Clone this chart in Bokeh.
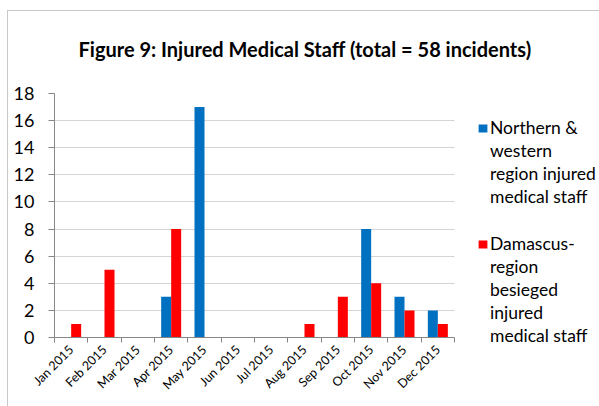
import numpy as np
from bokeh.plotting import figure
from bokeh.models import FixedTicker, Legend, LegendItem, Range1d
from bokeh.embed import file_html
from bokeh.resources import INLINE

# ---- data ----
months = ["Jan 2015", "Feb 2015", "Mar 2015", "Apr 2015", "May 2015", "Jun 2015",
          "Jul 2015", "Aug 2015", "Sep 2015", "Oct 2015", "Nov 2015", "Dec 2015"]
northern = [0, 0, 0, 3, 17, 0, 0, 0, 0, 8, 3, 2]
damascus = [1, 5, 0, 8, 0, 0, 0, 1, 3, 4, 2, 1]
y_ticks = [0, 2, 4, 6, 8, 10, 12, 14, 16, 18]
title_text = "Figure 9: Injured Medical Staff (total = 58 incidents)"
label_north = ["Northern &", "western", "region injured", "medical staff"]
label_dam = ["Damascus-", "region", "besieged", "injured", "medical staff"]

FONT = "Lato"
BLUE = "#0070C0"
RED = "#FF0000"
AXIS = "#868686"
GRID = "#d4d4d4"

n = len(months)
centers = np.arange(n) + 0.5
bounds = list(range(n + 1))
bw = 0.3

W, H = 599, 406
LEFT, TOP = 54, 93
DROP = 10                             # frame extends this many px below the zero line
BOTTOM = 69 - DROP
CAT_PX = 400 / n                      # pixel width of one month slot
UNIT_PX = 244 / (y_ticks[-1] - y_ticks[0])   # pixels per y unit
frame_w = W - LEFT
frame_h = H - TOP - BOTTOM
x_end = frame_w / CAT_PX
y_start = y_ticks[-1] - frame_h / UNIT_PX

p = figure(width=W, height=H, x_range=Range1d(0, x_end), y_range=Range1d(y_start, y_ticks[-1]),
           output_backend="svg", toolbar_location=None,
           min_border_left=LEFT, min_border_right=0, min_border_top=TOP, min_border_bottom=BOTTOM)
p.border_fill_alpha = 0
p.styles = {
    "background-image": "linear-gradient(#c8c8c8, #c8c8c8), linear-gradient(#c8c8c8, #c8c8c8)",
    "background-position": "7px 10px, 7px 10px",
    "background-size": "1px 100%, 100% 1px",
    "background-repeat": "no-repeat, no-repeat",
}

r1 = p.vbar(x=centers - bw / 2, top=northern, width=bw, fill_color=BLUE, line_color=None)
r2 = p.vbar(x=centers + bw / 2, top=damascus, width=bw, fill_color=RED, line_color=None)

# category axis base line at zero
p.segment(x0=[0], x1=[n], y0=[y_ticks[0]], y1=[y_ticks[0]], line_color=AXIS, line_width=1)

p.title.text = title_text
p.title.align = "left"
p.title.offset = 24
p.title.standoff = 66
p.title.text_font = FONT
p.title.text_font_size = "20px"
p.title.text_font_style = "bold"
p.title.text_color = "#000000"

p.outline_line_color = None
p.xgrid.grid_line_color = None
p.ygrid.ticker = FixedTicker(ticks=y_ticks[1:])
if "cross_bounds" in p.ygrid[0].properties():
    p.ygrid.grid_line_color = GRID
    p.ygrid.cross_bounds = (0, n)
else:
    p.ygrid.grid_line_color = None
    p.segment(x0=0, x1=n, y0=y_ticks[1:], y1=y_ticks[1:], line_color=GRID, level="underlay")

p.yaxis.bounds = (y_ticks[0], y_ticks[-1])
p.yaxis.ticker = FixedTicker(ticks=y_ticks)
p.yaxis.axis_line_color = AXIS
p.yaxis.major_tick_line_color = AXIS
p.yaxis.major_tick_in = 0
p.yaxis.major_tick_out = 6
p.yaxis.minor_tick_line_color = None
p.yaxis.major_label_text_font = FONT
p.yaxis.major_label_text_font_size = "18px"
p.yaxis.major_label_text_color = "#000000"
p.yaxis.major_label_standoff = 14

p.xaxis.bounds = (0, n)
p.xaxis.ticker = FixedTicker(ticks=list(centers), minor_ticks=bounds)
p.xaxis.major_label_overrides = {float(c): m for c, m in zip(centers, months)}
p.xaxis.axis_line_color = None
p.xaxis.major_tick_line_color = None
p.xaxis.major_tick_in = 0
p.xaxis.major_tick_out = 0
p.xaxis.minor_tick_line_color = AXIS
p.xaxis.minor_tick_in = DROP
p.xaxis.minor_tick_out = 5 - DROP
p.xaxis.major_label_orientation = np.pi / 4
p.xaxis.major_label_text_font = FONT
p.xaxis.major_label_text_font_size = "12.5px"
p.xaxis.major_label_text_color = "#000000"
p.xaxis.major_label_standoff = 0


def make_legend(lines, renderer, loc):
    items = [LegendItem(label=lines[0], renderers=[renderer])]
    items += [LegendItem(label=t, renderers=[]) for t in lines[1:]]
    lg = Legend(items=items, location=loc)
    lg.border_line_color = None
    lg.background_fill_alpha = 0
    lg.glyph_width = 11
    lg.glyph_height = 10
    lg.label_height = 23
    lg.label_text_font = FONT
    lg.label_text_font_size = "17.5px"
    lg.label_text_color = "#000000"
    lg.label_standoff = 2
    lg.spacing = 0
    lg.padding = 0
    lg.margin = 0
    return lg


p.add_layout(make_legend(label_north, r1, (423, 139)))
p.add_layout(make_legend(label_dam, r2, (423, 0)))

open("out.html", "w").write(file_html(p, INLINE))
